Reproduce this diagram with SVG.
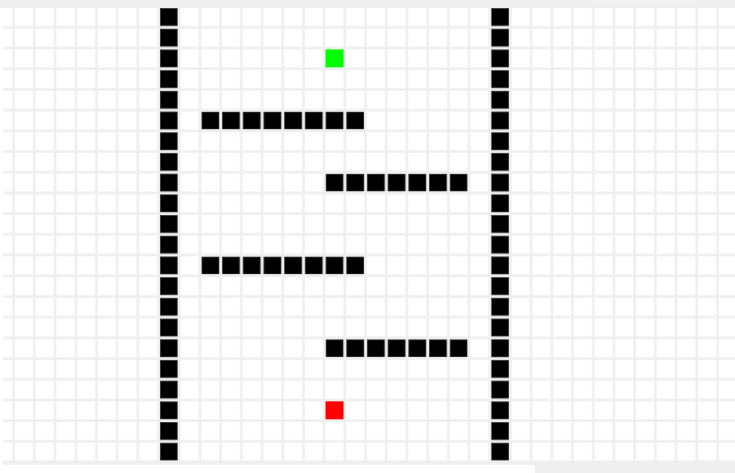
<svg xmlns="http://www.w3.org/2000/svg" width="735" height="473" viewBox="0 0 735 473">
  <style>
    .bg { fill: #efefef; }
    .cells { fill: url(#white); }
    .blk { fill: url(#black); }
  </style>
  <defs>
    <pattern id="white" patternUnits="userSpaceOnUse" x="-5.7" y="8" width="20.7" height="20.7">
      <rect x="0" y="0" width="18" height="18" fill="#ffffff"/>
    </pattern>
    <pattern id="black" patternUnits="userSpaceOnUse" x="-5.7" y="8" width="20.7" height="20.7">
      <rect x="0.3" y="0.3" width="17.4" height="17.4" fill="#000000" stroke="#3a3a3a" stroke-width="0.6"/>
    </pattern>
  </defs>
  <rect x="0" y="0" width="735" height="473" fill="#ffffff"/>
  <rect class="bg" x="0" y="0" width="735" height="465"/>
  <rect x="594" y="1" width="102" height="1" fill="#f9f9f9"/>
  <rect class="bg" x="535" y="465" width="200" height="8"/>
  <rect class="cells" x="0" y="8" width="735" height="452.7"/>
  <rect x="0" y="8" width="3" height="457" fill="#ffffff"/>
  <g id="wall-left">
    <rect class="blk" x="159.9" y="8" width="18" height="452.7"/>
  </g>
  <g id="wall-right">
    <rect class="blk" x="491.1" y="8" width="18" height="452.7"/>
  </g>
  <g id="platform-1">
    <rect class="blk" x="201.3" y="111.5" width="162.9" height="18"/>
  </g>
  <g id="platform-2">
    <rect class="blk" x="325.5" y="173.6" width="142.2" height="18"/>
  </g>
  <g id="platform-3">
    <rect class="blk" x="201.3" y="256.4" width="162.9" height="18"/>
  </g>
  <g id="platform-4">
    <rect class="blk" x="325.5" y="339.2" width="142.2" height="18"/>
  </g>
  <g id="goal">
    <rect x="325.5" y="49.4" width="18" height="18" fill="#00ff00"/>
  </g>
  <g id="start">
    <rect x="325.5" y="401.3" width="18" height="18" fill="#ff0000"/>
  </g>
</svg>
